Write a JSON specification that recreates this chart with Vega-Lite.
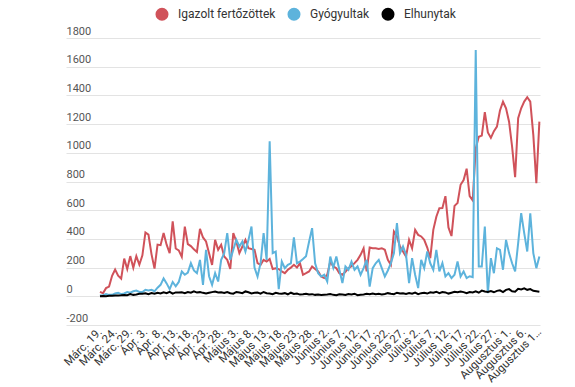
{
  "$schema": "https://vega.github.io/schema/vega-lite/v6.json",
  "width": 474,
  "height": 287,
  "autosize": {"type": "none"},
  "padding": {"left": 66, "top": 38, "right": 35, "bottom": 62},
  "background": "white",
  "config": {"view": {"stroke": null}, "font": "Roboto"},
  "data": {"values": [
    {"date":"2020-03-19","Igazolt fertőzöttek":31,"Gyógyultak":5,"Elhunytak":1},
    {"date":"2020-03-20","Igazolt fertőzöttek":22,"Gyógyultak":8,"Elhunytak":2},
    {"date":"2020-03-21","Igazolt fertőzöttek":57,"Gyógyultak":15,"Elhunytak":0},
    {"date":"2020-03-22","Igazolt fertőzöttek":68,"Gyógyultak":10,"Elhunytak":3},
    {"date":"2020-03-23","Igazolt fertőzöttek":143,"Gyógyultak":10,"Elhunytak":4},
    {"date":"2020-03-24","Igazolt fertőzöttek":186,"Gyógyultak":20,"Elhunytak":5},
    {"date":"2020-03-25","Igazolt fertőzöttek":144,"Gyógyultak":25,"Elhunytak":6},
    {"date":"2020-03-26","Igazolt fertőzöttek":123,"Gyógyultak":15,"Elhunytak":7},
    {"date":"2020-03-27","Igazolt fertőzöttek":263,"Gyógyultak":20,"Elhunytak":9},
    {"date":"2020-03-28","Igazolt fertőzöttek":190,"Gyógyultak":30,"Elhunytak":8},
    {"date":"2020-03-29","Igazolt fertőzöttek":280,"Gyógyultak":25,"Elhunytak":15},
    {"date":"2020-03-30","Igazolt fertőzöttek":199,"Gyógyultak":35,"Elhunytak":10},
    {"date":"2020-03-31","Igazolt fertőzöttek":280,"Gyógyultak":40,"Elhunytak":12},
    {"date":"2020-04-01","Igazolt fertőzöttek":220,"Gyógyultak":30,"Elhunytak":17},
    {"date":"2020-04-02","Igazolt fertőzöttek":285,"Gyógyultak":30,"Elhunytak":18},
    {"date":"2020-04-03","Igazolt fertőzöttek":445,"Gyógyultak":45,"Elhunytak":21},
    {"date":"2020-04-04","Igazolt fertőzöttek":430,"Gyógyultak":40,"Elhunytak":15},
    {"date":"2020-04-05","Igazolt fertőzöttek":294,"Gyógyultak":45,"Elhunytak":23},
    {"date":"2020-04-06","Igazolt fertőzöttek":193,"Gyógyultak":35,"Elhunytak":18},
    {"date":"2020-04-07","Igazolt fertőzöttek":360,"Gyógyultak":60,"Elhunytak":25},
    {"date":"2020-04-08","Igazolt fertőzöttek":356,"Gyógyultak":80,"Elhunytak":20},
    {"date":"2020-04-09","Igazolt fertőzöttek":441,"Gyógyultak":125,"Elhunytak":28},
    {"date":"2020-04-10","Igazolt fertőzöttek":360,"Gyógyultak":90,"Elhunytak":22},
    {"date":"2020-04-11","Igazolt fertőzöttek":300,"Gyógyultak":50,"Elhunytak":31},
    {"date":"2020-04-12","Igazolt fertőzöttek":523,"Gyógyultak":100,"Elhunytak":18},
    {"date":"2020-04-13","Igazolt fertőzöttek":333,"Gyógyultak":70,"Elhunytak":27},
    {"date":"2020-04-14","Igazolt fertőzöttek":320,"Gyógyultak":100,"Elhunytak":26},
    {"date":"2020-04-15","Igazolt fertőzöttek":275,"Gyógyultak":173,"Elhunytak":28},
    {"date":"2020-04-16","Igazolt fertőzöttek":485,"Gyógyultak":150,"Elhunytak":22},
    {"date":"2020-04-17","Igazolt fertőzöttek":364,"Gyógyultak":165,"Elhunytak":30},
    {"date":"2020-04-18","Igazolt fertőzöttek":350,"Gyógyultak":231,"Elhunytak":25},
    {"date":"2020-04-19","Igazolt fertőzöttek":327,"Gyógyultak":180,"Elhunytak":35},
    {"date":"2020-04-20","Igazolt fertőzöttek":309,"Gyógyultak":161,"Elhunytak":26},
    {"date":"2020-04-21","Igazolt fertőzöttek":470,"Gyógyultak":254,"Elhunytak":29},
    {"date":"2020-04-22","Igazolt fertőzöttek":410,"Gyógyultak":80,"Elhunytak":24},
    {"date":"2020-04-23","Igazolt fertőzöttek":382,"Gyógyultak":324,"Elhunytak":20},
    {"date":"2020-04-24","Igazolt fertőzöttek":300,"Gyógyultak":140,"Elhunytak":25},
    {"date":"2020-04-25","Igazolt fertőzöttek":219,"Gyógyultak":80,"Elhunytak":29},
    {"date":"2020-04-26","Igazolt fertőzöttek":393,"Gyógyultak":161,"Elhunytak":33},
    {"date":"2020-04-27","Igazolt fertőzöttek":324,"Gyógyultak":103,"Elhunytak":26},
    {"date":"2020-04-28","Igazolt fertőzöttek":359,"Gyógyultak":254,"Elhunytak":28},
    {"date":"2020-04-29","Igazolt fertőzöttek":277,"Gyógyultak":300,"Elhunytak":23},
    {"date":"2020-04-30","Igazolt fertőzöttek":254,"Gyógyultak":440,"Elhunytak":30},
    {"date":"2020-05-01","Igazolt fertőzöttek":190,"Gyógyultak":254,"Elhunytak":21},
    {"date":"2020-05-02","Igazolt fertőzöttek":440,"Gyógyultak":324,"Elhunytak":18},
    {"date":"2020-05-03","Igazolt fertőzöttek":382,"Gyógyultak":393,"Elhunytak":30},
    {"date":"2020-05-04","Igazolt fertőzöttek":301,"Gyógyultak":347,"Elhunytak":26},
    {"date":"2020-05-05","Igazolt fertőzöttek":347,"Gyógyultak":382,"Elhunytak":22},
    {"date":"2020-05-06","Igazolt fertőzöttek":393,"Gyógyultak":312,"Elhunytak":34},
    {"date":"2020-05-07","Igazolt fertőzöttek":335,"Gyógyultak":393,"Elhunytak":28},
    {"date":"2020-05-08","Igazolt fertőzöttek":330,"Gyógyultak":486,"Elhunytak":20},
    {"date":"2020-05-09","Igazolt fertőzöttek":324,"Gyógyultak":200,"Elhunytak":24},
    {"date":"2020-05-10","Igazolt fertőzöttek":231,"Gyógyultak":138,"Elhunytak":26},
    {"date":"2020-05-11","Igazolt fertőzöttek":219,"Gyógyultak":231,"Elhunytak":18},
    {"date":"2020-05-12","Igazolt fertőzöttek":254,"Gyógyultak":440,"Elhunytak":30},
    {"date":"2020-05-13","Igazolt fertőzöttek":242,"Gyógyultak":254,"Elhunytak":22},
    {"date":"2020-05-14","Igazolt fertőzöttek":260,"Gyógyultak":1080,"Elhunytak":20},
    {"date":"2020-05-15","Igazolt fertőzöttek":190,"Gyógyultak":301,"Elhunytak":15},
    {"date":"2020-05-16","Igazolt fertőzöttek":196,"Gyógyultak":312,"Elhunytak":24},
    {"date":"2020-05-17","Igazolt fertőzöttek":190,"Gyógyultak":50,"Elhunytak":20},
    {"date":"2020-05-18","Igazolt fertőzöttek":173,"Gyógyultak":242,"Elhunytak":18},
    {"date":"2020-05-19","Igazolt fertőzöttek":161,"Gyógyultak":196,"Elhunytak":22},
    {"date":"2020-05-20","Igazolt fertőzöttek":185,"Gyógyultak":219,"Elhunytak":14},
    {"date":"2020-05-21","Igazolt fertőzöttek":200,"Gyógyultak":230,"Elhunytak":25},
    {"date":"2020-05-22","Igazolt fertőzöttek":219,"Gyógyultak":410,"Elhunytak":16},
    {"date":"2020-05-23","Igazolt fertőzöttek":200,"Gyógyultak":231,"Elhunytak":19},
    {"date":"2020-05-24","Igazolt fertőzöttek":231,"Gyógyultak":242,"Elhunytak":12},
    {"date":"2020-05-25","Igazolt fertőzöttek":150,"Gyógyultak":260,"Elhunytak":14},
    {"date":"2020-05-26","Igazolt fertőzöttek":161,"Gyógyultak":280,"Elhunytak":18},
    {"date":"2020-05-27","Igazolt fertőzöttek":173,"Gyógyultak":380,"Elhunytak":13},
    {"date":"2020-05-28","Igazolt fertőzöttek":208,"Gyógyultak":475,"Elhunytak":15},
    {"date":"2020-05-29","Igazolt fertőzöttek":190,"Gyógyultak":230,"Elhunytak":10},
    {"date":"2020-05-30","Igazolt fertőzöttek":173,"Gyógyultak":161,"Elhunytak":12},
    {"date":"2020-05-31","Igazolt fertőzöttek":138,"Gyógyultak":138,"Elhunytak":9},
    {"date":"2020-06-01","Igazolt fertőzöttek":127,"Gyógyultak":150,"Elhunytak":11},
    {"date":"2020-06-02","Igazolt fertőzöttek":150,"Gyógyultak":103,"Elhunytak":13},
    {"date":"2020-06-03","Igazolt fertőzöttek":242,"Gyógyultak":277,"Elhunytak":16},
    {"date":"2020-06-04","Igazolt fertőzöttek":208,"Gyógyultak":200,"Elhunytak":10},
    {"date":"2020-06-05","Igazolt fertőzöttek":196,"Gyógyultak":277,"Elhunytak":8},
    {"date":"2020-06-06","Igazolt fertőzöttek":161,"Gyógyultak":185,"Elhunytak":14},
    {"date":"2020-06-07","Igazolt fertőzöttek":150,"Gyógyultak":92,"Elhunytak":12},
    {"date":"2020-06-08","Igazolt fertőzöttek":170,"Gyógyultak":208,"Elhunytak":9},
    {"date":"2020-06-09","Igazolt fertőzöttek":196,"Gyógyultak":185,"Elhunytak":16},
    {"date":"2020-06-10","Igazolt fertőzöttek":210,"Gyógyultak":242,"Elhunytak":13},
    {"date":"2020-06-11","Igazolt fertőzöttek":231,"Gyógyultak":185,"Elhunytak":18},
    {"date":"2020-06-12","Igazolt fertőzöttek":254,"Gyógyultak":208,"Elhunytak":8},
    {"date":"2020-06-13","Igazolt fertőzöttek":289,"Gyógyultak":150,"Elhunytak":11},
    {"date":"2020-06-14","Igazolt fertőzöttek":335,"Gyógyultak":196,"Elhunytak":13},
    {"date":"2020-06-15","Igazolt fertőzöttek":173,"Gyógyultak":254,"Elhunytak":17},
    {"date":"2020-06-16","Igazolt fertőzöttek":340,"Gyógyultak":68,"Elhunytak":14},
    {"date":"2020-06-17","Igazolt fertőzöttek":335,"Gyógyultak":196,"Elhunytak":20},
    {"date":"2020-06-18","Igazolt fertőzöttek":335,"Gyógyultak":230,"Elhunytak":15},
    {"date":"2020-06-19","Igazolt fertőzöttek":330,"Gyógyultak":254,"Elhunytak":17},
    {"date":"2020-06-20","Igazolt fertőzöttek":335,"Gyógyultak":196,"Elhunytak":13},
    {"date":"2020-06-21","Igazolt fertőzöttek":324,"Gyógyultak":138,"Elhunytak":16},
    {"date":"2020-06-22","Igazolt fertőzöttek":254,"Gyógyultak":180,"Elhunytak":22},
    {"date":"2020-06-23","Igazolt fertőzöttek":219,"Gyógyultak":231,"Elhunytak":18},
    {"date":"2020-06-24","Igazolt fertőzöttek":451,"Gyógyultak":300,"Elhunytak":15},
    {"date":"2020-06-25","Igazolt fertőzöttek":417,"Gyógyultak":510,"Elhunytak":25},
    {"date":"2020-06-26","Igazolt fertőzöttek":347,"Gyógyultak":301,"Elhunytak":19},
    {"date":"2020-06-27","Igazolt fertőzöttek":312,"Gyógyultak":347,"Elhunytak":21},
    {"date":"2020-06-28","Igazolt fertőzöttek":277,"Gyógyultak":289,"Elhunytak":17},
    {"date":"2020-06-29","Igazolt fertőzöttek":393,"Gyógyultak":92,"Elhunytak":23},
    {"date":"2020-06-30","Igazolt fertőzöttek":335,"Gyógyultak":266,"Elhunytak":18},
    {"date":"2020-07-01","Igazolt fertőzöttek":463,"Gyógyultak":150,"Elhunytak":26},
    {"date":"2020-07-02","Igazolt fertőzöttek":428,"Gyógyultak":57,"Elhunytak":15},
    {"date":"2020-07-03","Igazolt fertőzöttek":417,"Gyógyultak":254,"Elhunytak":22},
    {"date":"2020-07-04","Igazolt fertőzöttek":393,"Gyógyultak":196,"Elhunytak":24},
    {"date":"2020-07-05","Igazolt fertőzöttek":340,"Gyógyultak":312,"Elhunytak":19},
    {"date":"2020-07-06","Igazolt fertőzöttek":266,"Gyógyultak":230,"Elhunytak":28},
    {"date":"2020-07-07","Igazolt fertőzöttek":463,"Gyógyultak":185,"Elhunytak":25},
    {"date":"2020-07-08","Igazolt fertőzöttek":555,"Gyógyultak":324,"Elhunytak":32},
    {"date":"2020-07-09","Igazolt fertőzöttek":614,"Gyógyultak":173,"Elhunytak":22},
    {"date":"2020-07-10","Igazolt fertőzöttek":615,"Gyógyultak":231,"Elhunytak":30},
    {"date":"2020-07-11","Igazolt fertőzöttek":698,"Gyógyultak":138,"Elhunytak":27},
    {"date":"2020-07-12","Igazolt fertőzöttek":480,"Gyógyultak":161,"Elhunytak":19},
    {"date":"2020-07-13","Igazolt fertőzöttek":420,"Gyógyultak":127,"Elhunytak":25},
    {"date":"2020-07-14","Igazolt fertőzöttek":630,"Gyógyultak":150,"Elhunytak":31},
    {"date":"2020-07-15","Igazolt fertőzöttek":650,"Gyógyultak":242,"Elhunytak":28},
    {"date":"2020-07-16","Igazolt fertőzöttek":777,"Gyógyultak":138,"Elhunytak":34},
    {"date":"2020-07-17","Igazolt fertőzöttek":810,"Gyógyultak":173,"Elhunytak":29},
    {"date":"2020-07-18","Igazolt fertőzöttek":889,"Gyógyultak":127,"Elhunytak":22},
    {"date":"2020-07-19","Igazolt fertőzöttek":698,"Gyógyultak":140,"Elhunytak":30},
    {"date":"2020-07-20","Igazolt fertőzöttek":668,"Gyógyultak":134,"Elhunytak":27},
    {"date":"2020-07-21","Igazolt fertőzöttek":1030,"Gyógyultak":1717,"Elhunytak":35},
    {"date":"2020-07-22","Igazolt fertőzöttek":1112,"Gyógyultak":208,"Elhunytak":25},
    {"date":"2020-07-23","Igazolt fertőzöttek":1120,"Gyógyultak":208,"Elhunytak":40},
    {"date":"2020-07-24","Igazolt fertőzöttek":1284,"Gyógyultak":486,"Elhunytak":33},
    {"date":"2020-07-25","Igazolt fertőzöttek":1142,"Gyógyultak":22,"Elhunytak":30},
    {"date":"2020-07-26","Igazolt fertőzöttek":1104,"Gyógyultak":266,"Elhunytak":36},
    {"date":"2020-07-27","Igazolt fertőzöttek":1151,"Gyógyultak":161,"Elhunytak":28},
    {"date":"2020-07-28","Igazolt fertőzöttek":1182,"Gyógyultak":335,"Elhunytak":38},
    {"date":"2020-07-29","Igazolt fertőzöttek":1295,"Gyógyultak":324,"Elhunytak":42},
    {"date":"2020-07-30","Igazolt fertőzöttek":1356,"Gyógyultak":185,"Elhunytak":30},
    {"date":"2020-07-31","Igazolt fertőzöttek":1310,"Gyógyultak":393,"Elhunytak":45},
    {"date":"2020-08-01","Igazolt fertőzöttek":1217,"Gyógyultak":301,"Elhunytak":50},
    {"date":"2020-08-02","Igazolt fertőzöttek":1043,"Gyógyultak":230,"Elhunytak":35},
    {"date":"2020-08-03","Igazolt fertőzöttek":830,"Gyógyultak":173,"Elhunytak":32},
    {"date":"2020-08-04","Igazolt fertőzöttek":1241,"Gyógyultak":370,"Elhunytak":52},
    {"date":"2020-08-05","Igazolt fertőzöttek":1310,"Gyógyultak":579,"Elhunytak":48},
    {"date":"2020-08-06","Igazolt fertőzöttek":1357,"Gyógyultak":440,"Elhunytak":55},
    {"date":"2020-08-07","Igazolt fertőzöttek":1387,"Gyógyultak":312,"Elhunytak":45},
    {"date":"2020-08-08","Igazolt fertőzöttek":1357,"Gyógyultak":579,"Elhunytak":50},
    {"date":"2020-08-09","Igazolt fertőzöttek":1125,"Gyógyultak":301,"Elhunytak":38},
    {"date":"2020-08-10","Igazolt fertőzöttek":788,"Gyógyultak":196,"Elhunytak":35},
    {"date":"2020-08-11","Igazolt fertőzöttek":1217,"Gyógyultak":277,"Elhunytak":32}
  ]},
  "transform": [
    {"fold": ["Igazolt fertőzöttek", "Gyógyultak", "Elhunytak"], "as": ["series", "value"]}
  ],
  "mark": {"type": "line", "strokeWidth": 2},
  "encoding": {
    "x": {
      "field": "date",
      "type": "temporal",
      "scale": {
        "type": "utc",
        "domain": [
          {"year": 2020, "month": 3, "date": 7, "hours": 19, "utc": true},
          {"year": 2020, "month": 8, "date": 11, "hours": 5, "utc": true}
        ]
      },
      "axis": {
        "title": null,
        "domain": false,
        "ticks": false,
        "grid": false,
        "labelAngle": -45,
        "labelAlign": "right",
        "labelBaseline": "middle",
        "labelPadding": 5,
        "labelFontSize": 11.5,
        "labelColor": "#333333",
        "labelOverlap": false,
        "labelFlush": false,
        "labelBound": false,
        "labelLimit": 200,
        "values": [
          {"year": 2020, "month": 3, "date": 19, "utc": true},
          {"year": 2020, "month": 3, "date": 24, "utc": true},
          {"year": 2020, "month": 3, "date": 29, "utc": true},
          {"year": 2020, "month": 4, "date": 3, "utc": true},
          {"year": 2020, "month": 4, "date": 8, "utc": true},
          {"year": 2020, "month": 4, "date": 13, "utc": true},
          {"year": 2020, "month": 4, "date": 18, "utc": true},
          {"year": 2020, "month": 4, "date": 23, "utc": true},
          {"year": 2020, "month": 4, "date": 28, "utc": true},
          {"year": 2020, "month": 5, "date": 3, "utc": true},
          {"year": 2020, "month": 5, "date": 8, "utc": true},
          {"year": 2020, "month": 5, "date": 13, "utc": true},
          {"year": 2020, "month": 5, "date": 18, "utc": true},
          {"year": 2020, "month": 5, "date": 23, "utc": true},
          {"year": 2020, "month": 5, "date": 28, "utc": true},
          {"year": 2020, "month": 6, "date": 2, "utc": true},
          {"year": 2020, "month": 6, "date": 7, "utc": true},
          {"year": 2020, "month": 6, "date": 12, "utc": true},
          {"year": 2020, "month": 6, "date": 17, "utc": true},
          {"year": 2020, "month": 6, "date": 22, "utc": true},
          {"year": 2020, "month": 6, "date": 27, "utc": true},
          {"year": 2020, "month": 7, "date": 2, "utc": true},
          {"year": 2020, "month": 7, "date": 7, "utc": true},
          {"year": 2020, "month": 7, "date": 12, "utc": true},
          {"year": 2020, "month": 7, "date": 17, "utc": true},
          {"year": 2020, "month": 7, "date": 22, "utc": true},
          {"year": 2020, "month": 7, "date": 27, "utc": true},
          {"year": 2020, "month": 8, "date": 1, "utc": true},
          {"year": 2020, "month": 8, "date": 6, "utc": true},
          {"year": 2020, "month": 8, "date": 11, "utc": true}
        ],
        "labelExpr": "(utcmonth(datum.value) == 7 && utcdate(datum.value) == 11) ? 'Augusztus 1…' : ['Jan.','Febr.','Márc.','Ápr.','Május','Június','Július','Augusztus'][utcmonth(datum.value)] + ' ' + utcdate(datum.value) + '.'"
      }
    },
    "y": {
      "field": "value",
      "type": "quantitative",
      "scale": {"domain": [-200, 1800], "nice": false, "zero": false},
      "axis": {
        "title": null,
        "values": [-200, 0, 200, 400, 600, 800, 1000, 1200, 1400, 1600, 1800],
        "labelExpr": "datum.value < 0 ? '-' + abs(datum.value) : '' + datum.value",
        "domain": false,
        "ticks": false,
        "tickSize": 0,
        "grid": true,
        "gridColor": "#e3e3e3",
        "gridWidth": 1,
        "labelAlign": "left",
        "labelBaseline": "bottom",
        "labelPadding": 0,
        "labelOffset": -2,
        "labelFontSize": 11,
        "labelColor": "#555555",
        "labelFlush": false,
        "labelBound": false
      }
    },
    "color": {
      "field": "series",
      "type": "nominal",
      "sort": ["Igazolt fertőzöttek", "Gyógyultak", "Elhunytak"],
      "scale": {
        "domain": ["Igazolt fertőzöttek", "Gyógyultak", "Elhunytak"],
        "range": ["#d0525a", "#5db3dc", "#000000"]
      },
      "legend": {
        "title": null,
        "orient": "none",
        "legendX": 89,
        "legendY": -31,
        "direction": "horizontal",
        "symbolType": "circle",
        "symbolSize": 170,
        "labelFontSize": 12,
        "labelColor": "#333333",
        "labelOffset": 9,
        "columnPadding": 11,
        "encode": {
          "symbols": {
            "update": {
              "fill": {"scale": "color", "field": "value"},
              "strokeWidth": {"value": 0}
            }
          }
        }
      }
    }
  }
}
